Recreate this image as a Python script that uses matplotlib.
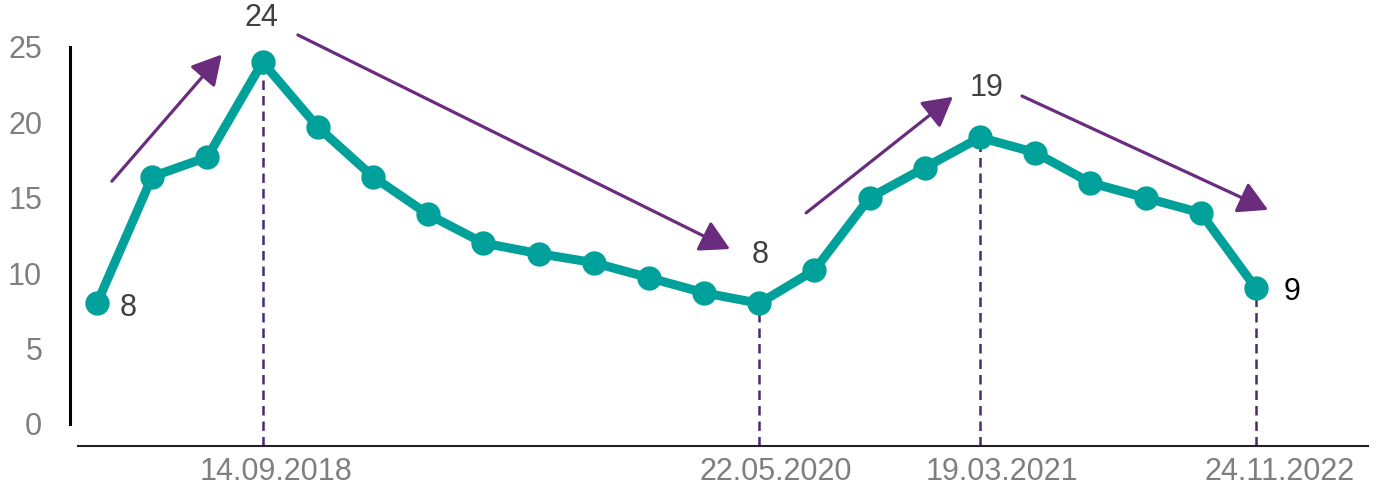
import matplotlib.pyplot as plt

plt.rcParams['font.family'] = ['Liberation Sans', 'DejaVu Sans']

# readings, one per period
values = [8, 16.4, 17.7, 24, 19.7, 16.4, 13.9, 12.0, 11.3, 10.7, 9.7,
          8.7, 8, 10.2, 15.0, 17.0, 19, 18.0, 16.0, 15.0, 14.0, 9]
# points that get a dashed drop line and a date underneath
marked = [3, 12, 16, 21]
dates = ['14.09.2018', '22.05.2020', '19.03.2021', '24.11.2022']
# points with their value written next to them
labelled = [0, 3, 12, 16, 21]
yticks = [0, 5, 10, 15, 20, 25]

teal = '#00A19A'
purple = '#6A2C7D'
dash_col = '#4B2A6E'
grey = '#7F7F7F'

x = list(range(len(values)))
ybot = -1.46

fig = plt.figure(figsize=(13.89, 4.95), dpi=100)
ax = fig.add_axes([70 / 1389, 49 / 495, 1298 / 1389, 399 / 495])
ax.set_xlim(-0.489, 23.03)
ax.set_ylim(ybot, 25)

ax.plot(x, values, color=teal, lw=6.5, marker='o', ms=16.5,
        solid_capstyle='round', solid_joinstyle='round', zorder=3)

# drop lines + dates
date_dx = [13, 16, 22, 24]
for k, i in enumerate(marked):
    ax.vlines(i, ybot, values[i], color=dash_col, lw=1.8,
              linestyles=(0, (3.8, 2.4)), zorder=2)
    ax.annotate(dates[k], (i, ybot), xytext=(date_dx[k], -26),
                textcoords='offset pixels', ha='center', va='center',
                fontsize=22, color=grey, annotation_clip=False)

# value labels
offs = {0: (31, -5), 3: (-1, 44), 12: (1, 48), 16: (7, 49), 21: (36, -4)}
for i in labelled:
    col = 'black' if i == labelled[-1] else '#404040'
    ax.annotate(f'{values[i]:.0f}', (i, values[i]), xytext=offs[i],
                textcoords='offset pixels', ha='center', va='center',
                fontsize=22, color=col, annotation_clip=False)

# trend arrows
trends = [((0.27, 16.1), (2.26, 24.5)),
          ((3.64, 25.8), (11.47, 11.6)),
          ((12.85, 14.0), (15.51, 21.7)),
          ((16.76, 21.75), (21.22, 14.2))]
for tail, tip in trends:
    ax.annotate('', xy=tip, xytext=tail, annotation_clip=False,
                arrowprops=dict(arrowstyle='-|>,head_length=0.9,head_width=0.5',
                                color=purple, lw=2.3, mutation_scale=20,
                                shrinkA=0, shrinkB=0))

for s in ['top', 'right']:
    ax.spines[s].set_visible(False)
ax.spines['left'].set_bounds(0, 25)
ax.spines['left'].set_linewidth(2.2)
ax.spines['left'].set_color('black')
ax.spines['bottom'].set_bounds(-0.344, 23.03)
ax.spines['bottom'].set_linewidth(1.5)
ax.spines['bottom'].set_color('#222222')

ax.set_yticks(yticks)
ax.tick_params(axis='y', length=0, pad=20, labelsize=22, labelcolor=grey)
ax.set_xticks([])

fig.savefig('out.png', dpi=100)
